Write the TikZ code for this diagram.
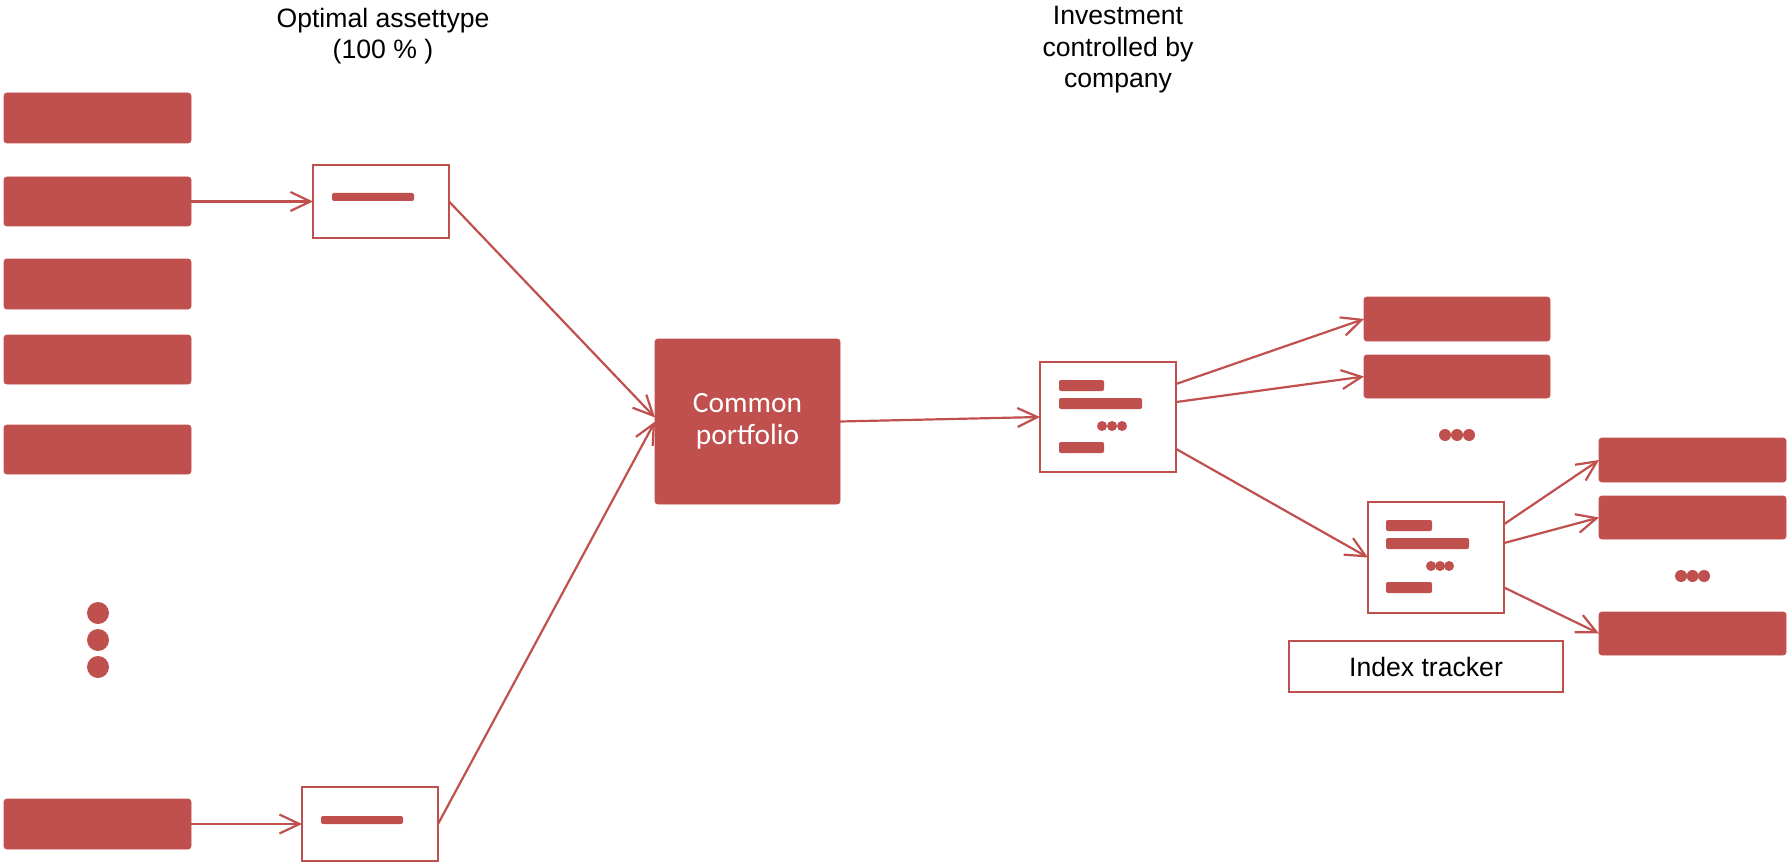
\documentclass[tikz,border=0pt]{standalone}
\usepackage{fontspec}
\setmainfont{Liberation Sans}
\newfontfamily\carlitofont{Carlito}
\usetikzlibrary{arrows.meta,calc}
\definecolor{acc}{HTML}{C0504D}
\newcommand{\rnode}[6]{\node[#1, minimum width={(#5-#3)*0.5pt}, minimum height={(#6-#4)*0.5pt}] (#2) at ({(#3+#5)/2},{(#4+#6)/2}) {};}
\begin{document}
\begin{tikzpicture}[x=0.5pt,y=-0.5pt,
  redbar/.style={fill=acc, draw=acc, line width=0.4pt, rounded corners=1.5pt, inner sep=0pt, outer sep=0pt},
  framebox/.style={draw=acc, fill=white, line width=0.8pt, inner sep=0pt, outer sep=0pt},
  conn/.style={draw=acc, line width=1.1pt, -{Straight Barb[length=10pt,width=9.5pt]}},
  hdr/.style={align=center, font=\fontsize{13.3}{15.8}\selectfont, inner sep=0pt}]
\useasboundingbox (0,0) rectangle (1792,866);
% headers
\node[hdr] (h1) at (383,36) {Optimal assettype\\(100 \% )};
\node[hdr] (h2) at (1118,50) {Investment\\controlled by\\company};
% left column
\rnode{redbar}{L1}{4}{93}{191}{143}
\rnode{redbar}{L2}{4}{177}{191}{226}
\rnode{redbar}{L3}{4}{259}{191}{309}
\rnode{redbar}{L4}{4}{335}{191}{384}
\rnode{redbar}{L5}{4}{425}{191}{474}
\rnode{redbar}{L6}{4}{799}{191}{849}
\foreach \yy in {613,640,667} \fill[acc] (98,\yy) circle[radius=11];
% asset type boxes
\rnode{framebox}{T}{313}{165}{449}{238}
\fill[acc, rounded corners=1pt] (332,193) rectangle (414,201);
\rnode{framebox}{B}{302}{787}{438}{861}
\fill[acc, rounded corners=1pt] (321,816) rectangle (403,824);
% common portfolio
\node[redbar, minimum width={185*0.5pt}, minimum height={165*0.5pt}, text=white, align=center,
  font=\carlitofont\fontsize{14.7}{16}\selectfont] (CP) at (747.5,421.5) {Common\\portfolio};
% middle box
\rnode{framebox}{M}{1040}{362}{1176}{472}
\fill[acc, rounded corners=1pt] (1059,380) rectangle (1104,391);
\fill[acc, rounded corners=1pt] (1059,398) rectangle (1142,409);
\foreach \xx in {1102,1112,1122} \fill[acc] (\xx,426) circle[radius=5];
\fill[acc, rounded corners=1pt] (1059,442) rectangle (1104,453);
% top right
\rnode{redbar}{R1}{1364}{297}{1550}{341}
\rnode{redbar}{R2}{1364}{355}{1550}{398}
\foreach \xx in {1445,1457,1469} \fill[acc] (\xx,435) circle[radius=6];
% index box
\rnode{framebox}{I}{1368}{502}{1504}{613}
\fill[acc, rounded corners=1pt] (1386,520) rectangle (1432,531);
\fill[acc, rounded corners=1pt] (1386,538) rectangle (1469,549);
\foreach \xx in {1431,1440,1449} \fill[acc] (\xx,566) circle[radius=5];
\fill[acc, rounded corners=1pt] (1386,582) rectangle (1432,593);
% far right
\rnode{redbar}{A}{1599}{438}{1786}{482}
\rnode{redbar}{Bb}{1599}{496}{1786}{539}
\rnode{redbar}{C}{1599}{612}{1786}{655}
\foreach \xx in {1681,1692.5,1704} \fill[acc] (\xx,576) circle[radius=6];
% index tracker label
\node[framebox, minimum width={274*0.5pt}, minimum height={51*0.5pt}, font=\fontsize{13.3}{16}\selectfont] (IT) at (1426,666.5) {Index tracker};
% connectors
\draw[conn] (L2.east) -- (T.west);
\draw[conn] (L6.east) -- (B.west);
\draw[conn] (T.east) -- ([yshift=2pt]CP.west);
\draw[conn] (B.east) -- (CP.west);
\draw[conn] (CP.east) -- (M.west);
\draw[conn] ($(M.north east)!0.2!(M.south east)$) -- (R1.west);
\draw[conn] ($(M.north east)!0.364!(M.south east)$) -- (R2.west);
\draw[conn] ($(M.north east)!0.79!(M.south east)$) -- (I.west);
\draw[conn] ($(I.north east)!0.2!(I.south east)$) -- (A.west);
\draw[conn] ($(I.north east)!0.37!(I.south east)$) -- (Bb.west);
\draw[conn] ($(I.north east)!0.77!(I.south east)$) -- (C.west);
\end{tikzpicture}
\end{document}
